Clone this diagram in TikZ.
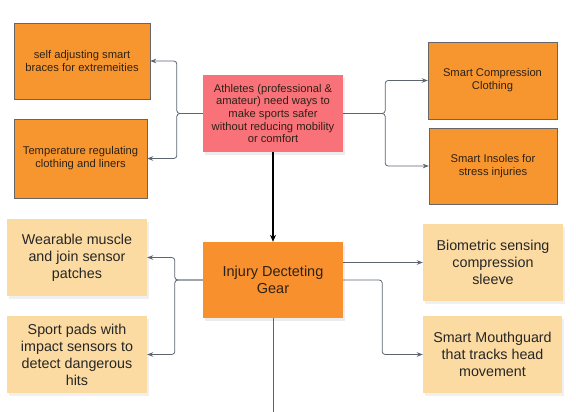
\documentclass[tikz,border=0pt]{standalone}
\usepackage{fontspec}
\setmainfont{Liberation Sans}
\usetikzlibrary{arrows.meta,shadows}

\definecolor{ideaorange}{HTML}{F7962F}
\definecolor{gearorange}{HTML}{F8902E}
\definecolor{notecream}{HTML}{FCDBA2}
\definecolor{goalred}{HTML}{F9727A}
\definecolor{edgegrey}{HTML}{5C6470}
\definecolor{inkbrown}{HTML}{2E2216}

\tikzstyle{ideabox} = [rectangle, draw = gray!80!black, fill = ideaorange, text = inkbrown, align = center, inner sep = 0pt, font = \fontsize{11.2}{13}\selectfont]
\tikzstyle{notebox} = [rectangle, fill = notecream, text = black!85, align = center, inner sep = 0pt, minimum width = 140pt, minimum height = 77pt, font = \fontsize{14.3}{17}\selectfont, drop shadow = {opacity = 0.12, shadow xshift = 2pt, shadow yshift = -3pt}]
\tikzstyle{goalbox} = [rectangle, fill = goalred, text = inkbrown, align = center, inner sep = 0pt, minimum width = 140pt, minimum height = 77pt, font = \fontsize{11.2}{12.7}\selectfont, drop shadow = {opacity = 0.15, shadow xshift = 2pt, shadow yshift = -3pt}]
\tikzstyle{gearbox} = [rectangle, fill = gearorange, text = inkbrown, align = center, inner sep = 0pt, minimum width = 140pt, minimum height = 76pt, font = \fontsize{14.5}{17}\selectfont, drop shadow = {opacity = 0.15, shadow xshift = 2pt, shadow yshift = -3pt}]
\tikzstyle{link} = [draw = edgegrey, line width = 0.8pt, rounded corners = 3pt, -{Stealth[length = 6pt, width = 4.5pt]}]
\tikzstyle{mainlink} = [draw = black, line width = 1.3pt, -{Stealth[length = 7pt, width = 6pt]}]

\begin{document}
\begin{tikzpicture}[x = 1pt, y = -1pt]
			\useasboundingbox (0,0) rectangle (576,412);
			% problem statement and first ideas
			\node[goalbox] (goal) at (273,113.5) {Athletes (professional \&\\amateur) need ways to\\make sports safer\\without reducing mobility\\or comfort};
			\node[ideabox, minimum width = 136pt, minimum height = 76pt] (braces) at (82,61) {self adjusting smart\\braces for extremeities};
			\node[ideabox, minimum width = 133pt, minimum height = 79pt] (liners) at (80.5,158.5) {Temperature regulating\\clothing and liners};
			\node[ideabox, minimum width = 129pt, minimum height = 77pt] (compress) at (492.5,80.5) {Smart Compression\\Clothing};
			\node[ideabox, minimum width = 128pt, minimum height = 76pt] (insoles) at (493,166) {Smart Insoles for\\stress injuries};
			% chosen direction and its notes
			\node[gearbox] (gear) at (273,280) {Injury Decteting\\Gear};
			\node[notebox] (muscle) at (77,257.5) {Wearable muscle\\and join sensor\\patches};
			\node[notebox] (pads) at (77,354.5) {Sport pads with\\impact sensors to\\detect dangerous\\hits};
			\node[notebox] (sleeve) at (493,262.5) {Biometric sensing\\compression\\sleeve};
			\node[notebox, minimum width = 139pt] (mouth) at (492.5,354.5) {Smart Mouthguard\\that tracks head\\movement};
			\coordinate (tail) at (273,412);
			%%%%%%%%%%%%%%%%%%%%%%%%%%%%%%%%%%%%%%%%%%%%%
			\path[link] (goal.west) -- ++(-26,0) |- (braces.east);
			\path[link] (goal.west) -- ++(-26,0) |- (liners.east);
			\path[link] (goal.east) -- ++(42,0) |- (compress.west);
			\path[link] (goal.east) -- ++(42,0) |- (insoles.west);
			\path[mainlink] (goal.south) -- (gear.north);
			\path[link] (gear.west) -- ++(-28,0) |- (muscle.east);
			\path[link] (gear.west) -- ++(-28,0) |- (pads.east);
			\path[link] (gear.east |- sleeve.west) -- (sleeve.west);
			\path[link] (gear.east) -- ++(39,0) |- (mouth.west);
			\draw[edgegrey, line width = 0.8pt] (gear.south) -- (tail);
		\end{tikzpicture}
\end{document}
